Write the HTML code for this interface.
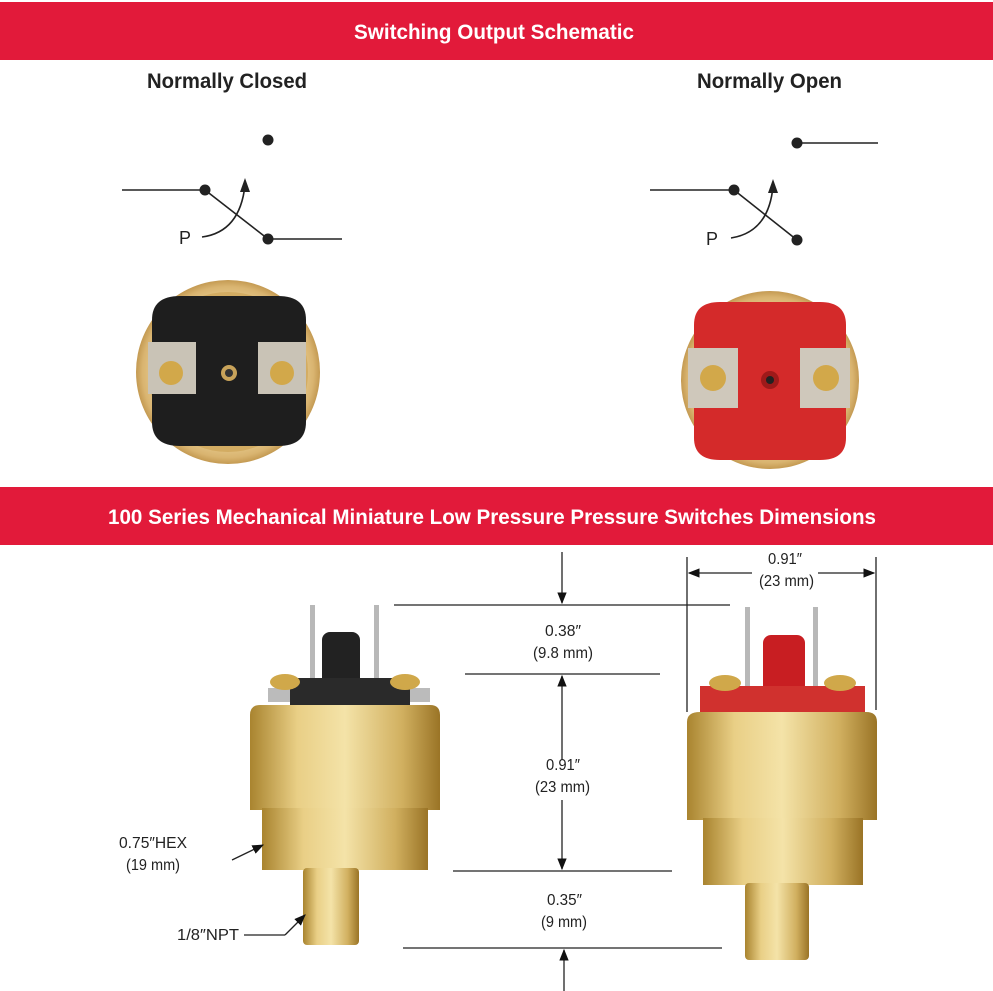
<!DOCTYPE html>
<html><head><meta charset="utf-8"><style>
html,body{margin:0;padding:0;background:#fff}
svg{display:block}
text{font-family:"Liberation Sans",sans-serif}
</style></head><body>
<svg width="993" height="991" viewBox="0 0 993 991" xmlns="http://www.w3.org/2000/svg">
<defs>
<linearGradient id="brass" x1="0" x2="1" y1="0" y2="0">
<stop offset="0" stop-color="#a9842f"/><stop offset="0.25" stop-color="#e9cf86"/><stop offset="0.5" stop-color="#f4e3a8"/><stop offset="0.8" stop-color="#d1b060"/><stop offset="1" stop-color="#9a7426"/>
</linearGradient>
<radialGradient id="ring" cx="0.5" cy="0.5" r="0.5">
<stop offset="0.8" stop-color="#e5c88a"/><stop offset="0.93" stop-color="#d9b470"/><stop offset="1" stop-color="#c49a52"/>
</radialGradient>
<marker id="ah" viewBox="0 0 10 10" refX="9" refY="5" markerWidth="9" markerHeight="9" orient="auto-start-reverse"><path d="M0,1 L10,5 L0,9z" fill="#111"/></marker>
</defs>
<rect x="0" y="2" width="993" height="58" fill="#e21a3a"/>
<text x="354" y="39" font-size="21" font-weight="bold" fill="#fff" textLength="280" lengthAdjust="spacingAndGlyphs">Switching Output Schematic</text>
<text x="147" y="88" font-size="21" font-weight="bold" fill="#222" textLength="160" lengthAdjust="spacingAndGlyphs">Normally Closed</text>
<text x="697" y="88" font-size="21" font-weight="bold" fill="#222" textLength="145" lengthAdjust="spacingAndGlyphs">Normally Open</text>
<g stroke="#222" stroke-width="1.6" fill="none">
<line x1="122" y1="190" x2="205" y2="190"/>
<line x1="205" y1="190" x2="268" y2="239"/>
<line x1="268" y1="239" x2="342" y2="239"/>
<path d="M202,237 Q240,232 245,185"/>
<line x1="650" y1="190" x2="734" y2="190"/>
<line x1="734" y1="190" x2="797" y2="240"/>
<line x1="797" y1="143" x2="878" y2="143"/>
<path d="M731,238 Q769,232 773,186"/>
</g>
<g fill="#222">
<circle cx="268" cy="140" r="5.5"/><circle cx="205" cy="190" r="5.5"/><circle cx="268" cy="239" r="5.5"/>
<path d="M245,178 L240,192 L250,192z"/>
<circle cx="797" cy="143" r="5.5"/><circle cx="734" cy="190" r="5.5"/><circle cx="797" cy="240" r="5.5"/>
<path d="M773,179 L768,193 L778,193z"/>
</g>
<text x="185" y="244" font-size="18" fill="#222" text-anchor="middle">P</text>
<text x="712" y="245" font-size="18" fill="#222" text-anchor="middle">P</text>
<circle cx="228" cy="372" r="92" fill="url(#ring)"/>
<circle cx="228" cy="372" r="80" fill="#d3ac62"/>
<path d="M152,320 Q152,296 180,296 L278,296 Q306,296 306,320 L306,422 Q306,446 278,446 L180,446 Q152,446 152,422z" fill="#1e1e1e"/>
<rect x="148" y="342" width="48" height="52" fill="#c9c3b6"/>
<rect x="258" y="342" width="48" height="52" fill="#c9c3b6"/>
<circle cx="171" cy="373" r="12" fill="#d2a84a"/><circle cx="282" cy="373" r="12" fill="#d2a84a"/>
<circle cx="229" cy="373" r="8" fill="#c8a35a"/><circle cx="229" cy="373" r="4" fill="#333"/>
<circle cx="770" cy="380" r="89" fill="url(#ring)"/>
<circle cx="770" cy="380" r="78" fill="#d3ac62"/>
<path d="M694,325 Q694,302 720,302 L820,302 Q846,302 846,325 L846,438 Q846,460 820,460 L720,460 Q694,460 694,438z" fill="#d42a2a"/>
<rect x="688" y="348" width="50" height="60" fill="#cfc8bb"/>
<rect x="800" y="348" width="50" height="60" fill="#cfc8bb"/>
<circle cx="713" cy="378" r="13" fill="#d2a84a"/><circle cx="826" cy="378" r="13" fill="#d2a84a"/>
<circle cx="770" cy="380" r="9" fill="#9e1a1a"/><circle cx="770" cy="380" r="4" fill="#222"/>
<rect x="0" y="487" width="993" height="58" fill="#e21a3a"/>
<text x="108" y="524" font-size="21" font-weight="bold" fill="#fff" textLength="768" lengthAdjust="spacingAndGlyphs">100 Series Mechanical Miniature Low Pressure Pressure Switches Dimensions</text>
<rect x="310" y="605" width="5" height="75" fill="#b8b8b8"/><rect x="374" y="605" width="5" height="75" fill="#b8b8b8"/>
<rect x="322" y="632" width="38" height="55" rx="8" fill="#222"/>
<rect x="268" y="688" width="162" height="14" fill="#bbb"/>
<rect x="290" y="678" width="120" height="28" fill="#2a2a2a"/>
<ellipse cx="285" cy="682" rx="15" ry="8" fill="#d0a84a"/><ellipse cx="405" cy="682" rx="15" ry="8" fill="#d0a84a"/>
<path d="M250,715 Q250,705 260,705 L430,705 Q440,705 440,715 L440,810 L250,810z" fill="url(#brass)"/>
<rect x="262" y="808" width="166" height="62" fill="url(#brass)"/>
<rect x="303" y="868" width="56" height="77" rx="4" fill="url(#brass)"/>
<rect x="745" y="607" width="5" height="80" fill="#b8b8b8"/><rect x="813" y="607" width="5" height="80" fill="#b8b8b8"/>
<rect x="763" y="635" width="42" height="60" rx="8" fill="#c81e22"/>
<rect x="700" y="686" width="165" height="28" fill="#d0312e"/>
<ellipse cx="725" cy="683" rx="16" ry="8" fill="#d0a84a"/><ellipse cx="840" cy="683" rx="16" ry="8" fill="#d0a84a"/>
<path d="M687,722 Q687,712 700,712 L866,712 Q877,712 877,722 L877,820 L687,820z" fill="url(#brass)"/>
<rect x="703" y="818" width="160" height="67" fill="url(#brass)"/>
<rect x="745" y="883" width="64" height="77" rx="4" fill="url(#brass)"/>
<g stroke="#222" stroke-width="1.3" fill="none">
<line x1="394" y1="605" x2="730" y2="605"/>
<line x1="465" y1="674" x2="660" y2="674"/>
<line x1="453" y1="871" x2="672" y2="871"/>
<line x1="403" y1="948" x2="722" y2="948"/>
<line x1="687" y1="557" x2="687" y2="712"/>
<line x1="876" y1="557" x2="876" y2="710"/>
<line x1="562" y1="552" x2="562" y2="603" marker-end="url(#ah)"/>
<line x1="562" y1="760" x2="562" y2="676" marker-end="url(#ah)"/>
<line x1="562" y1="800" x2="562" y2="869" marker-end="url(#ah)"/>
<line x1="564" y1="991" x2="564" y2="950" marker-end="url(#ah)"/>
<line x1="752" y1="573" x2="689" y2="573" marker-end="url(#ah)"/>
<line x1="818" y1="573" x2="874" y2="573" marker-end="url(#ah)"/>
<line x1="244" y1="935" x2="285" y2="935"/>
<line x1="285" y1="935" x2="305" y2="915" marker-end="url(#ah)"/>
<line x1="232" y1="860" x2="263" y2="845" marker-end="url(#ah)"/>
</g>
<g font-size="16" fill="#222">
<text x="768" y="564" textLength="34" lengthAdjust="spacingAndGlyphs">0.91″</text><text x="759" y="586" textLength="55" lengthAdjust="spacingAndGlyphs">(23 mm)</text>
<text x="545" y="636" textLength="36" lengthAdjust="spacingAndGlyphs">0.38″</text><text x="533" y="658" textLength="60" lengthAdjust="spacingAndGlyphs">(9.8 mm)</text>
<text x="546" y="770" textLength="34" lengthAdjust="spacingAndGlyphs">0.91″</text><text x="535" y="792" textLength="55" lengthAdjust="spacingAndGlyphs">(23 mm)</text>
<text x="547" y="905" textLength="35" lengthAdjust="spacingAndGlyphs">0.35″</text><text x="541" y="927" textLength="46" lengthAdjust="spacingAndGlyphs">(9 mm)</text>
<text x="119" y="848" textLength="68" lengthAdjust="spacingAndGlyphs">0.75″HEX</text><text x="126" y="870" textLength="54" lengthAdjust="spacingAndGlyphs">(19 mm)</text>
<text x="177" y="940" textLength="62" lengthAdjust="spacingAndGlyphs">1/8″NPT</text>
</g>
</svg>
</body></html>
